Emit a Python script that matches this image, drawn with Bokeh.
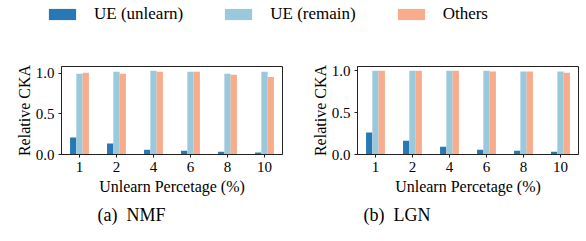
from bokeh.plotting import figure
from bokeh.layouts import column, row
from bokeh.models import Range1d, FixedTicker, Title, Legend, LegendItem, ColumnDataSource
from bokeh.transform import dodge
from bokeh.embed import file_html
from bokeh.resources import INLINE

percents = ["1", "2", "4", "6", "8", "10"]
series = ["UE (unlearn)", "UE (remain)", "Others"]
colors = ["#2878B5", "#9AC9DB", "#F8AC8C"]

nmf_unlearn = [0.21, 0.135, 0.06, 0.047, 0.035, 0.025]
nmf_remain = [0.996, 1.02, 1.034, 1.02, 0.996, 1.02]
nmf_others = [1.01, 0.996, 1.02, 1.02, 0.985, 0.955]

lgn_unlearn = [0.262, 0.165, 0.093, 0.056, 0.044, 0.032]
lgn_remain = [1.0, 1.0, 1.0, 1.0, 0.99, 0.99]
lgn_others = [1.0, 1.0, 1.0, 0.99, 0.99, 0.975]

y_ticks = [0.0, 0.5, 1.0]
y_tick_labels = ["0.0", "0.5", "1.0"]

FONT = "'Liberation Serif'"
BAR_W = 0.17


def panel(caption, cap_offset, unlearn, remain, others, width, bl, br):
    n = len(percents)
    xs = list(range(n))
    src = ColumnDataSource(dict(x=xs, unlearn=unlearn, remain=remain, others=others))
    ymax = max(max(unlearn), max(remain), max(others)) * 1.05
    p = figure(width=width, height=203, output_backend="svg", toolbar_location=None,
               x_range=Range1d(-0.486, n - 1 + 0.486), y_range=Range1d(0, ymax),
               min_border_left=bl, min_border_right=br, min_border_top=28, min_border_bottom=87)
    for col, off, c in zip(["unlearn", "remain", "others"], [-BAR_W, 0, BAR_W], colors):
        p.vbar(x=dodge("x", off, range=p.x_range), top=col, bottom=0, width=BAR_W,
               source=src, fill_color=c, line_color=None)
    p.xgrid.visible = False
    p.ygrid.visible = False
    p.outline_line_color = "#222222"
    p.outline_line_width = 1
    p.background_fill_color = "white"
    p.border_fill_color = "white"

    xa = p.xaxis[0]
    xa.ticker = FixedTicker(ticks=xs)
    xa.major_label_overrides = {i: lab for i, lab in enumerate(percents)}
    xa.axis_label = "Unlearn Percetage (%)"
    ya = p.yaxis[0]
    ya.ticker = FixedTicker(ticks=y_ticks)
    ya.major_label_overrides = {t: l for t, l in zip(y_ticks, y_tick_labels)}
    ya.axis_label = "Relative CKA"
    for ax in (xa, ya):
        ax.axis_line_color = "#222222"
        ax.major_tick_line_color = "#222222"
        ax.major_tick_in = 0
        ax.major_tick_out = 3
        ax.minor_tick_line_color = None
        ax.major_label_text_font = FONT
        ax.major_label_text_font_size = "15px"
        ax.major_label_text_color = "black"
        ax.axis_label_text_font = FONT
        ax.axis_label_text_font_size = "16px"
        ax.axis_label_text_font_style = "normal"
        ax.axis_label_text_color = "black"
        ax.major_label_standoff = 4
        ax.axis_label_standoff = 3
    ya.major_label_orientation = "horizontal"
    ya.axis_label_standoff = 0

    p.add_layout(Title(text=caption, align="left", offset=cap_offset, text_font=FONT,
                       text_font_size="18px", text_font_style="normal", text_color="black",
                       standoff=11), "below")
    return p


left = panel("(a)\u2002NMF", 36, nmf_unlearn, nmf_remain, nmf_others, 290, 61, 8)
right = panel("(b)\u2002LGN", 6, lgn_unlearn, lgn_remain, lgn_others, 296, 67, 8)

# legend figure
lg = figure(width=586, height=38, output_backend="svg", toolbar_location=None,
            x_range=Range1d(0, 1), y_range=Range1d(0, 1),
            min_border_left=45, min_border_right=0, min_border_top=4, min_border_bottom=0,
            x_axis_location=None, y_axis_location=None)
lg.xgrid.visible = False
lg.ygrid.visible = False
lg.outline_line_color = None
hidden = ColumnDataSource(dict(x=[-10], top=[0]))
items = []
for s, c in zip(series, colors):
    r = lg.vbar(x="x", top="top", width=0.1, source=hidden, fill_color=c, line_color=None)
    items.append(LegendItem(label=s, renderers=[r]))
legend = Legend(items=items, orientation="horizontal", location="top_left",
                glyph_width=34, glyph_height=14, label_height=14, label_standoff=15,
                spacing=38, padding=0, margin=0, border_line_color=None,
                background_fill_alpha=0, label_text_font=FONT, label_text_font_size="17px",
                label_text_color="black")
lg.add_layout(legend, "center")

layout = column(lg, row(left, right, spacing=0), spacing=0)
open("out.html", "w").write(file_html(layout, INLINE))
